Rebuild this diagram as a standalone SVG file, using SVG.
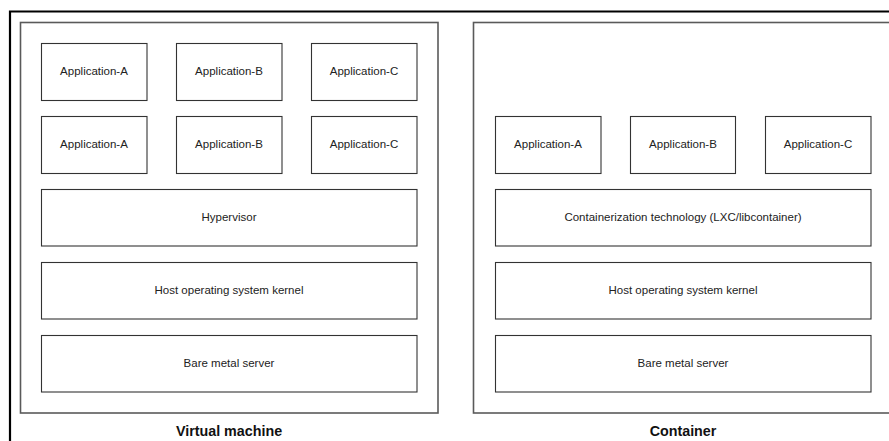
<svg xmlns="http://www.w3.org/2000/svg" width="889" height="441" viewBox="0 0 889 441">
<style>
.frame{fill:none;stroke:#000;stroke-width:2.2}
.panel{fill:none;stroke:#5a5a5a;stroke-width:1.6}
.box{fill:#fff;stroke:#333;stroke-width:1.1}
.lbl{font-family:"Liberation Sans",Arial,sans-serif;font-size:11.5px;fill:#222;text-anchor:middle}
.title{font-family:"Liberation Sans",Arial,sans-serif;font-size:14.3px;font-weight:bold;fill:#111;text-anchor:middle}
</style>
<rect width="889" height="441" fill="#fff"/>
<path class="frame" d="M10,441 V11.5 H889"/>
<g id="vm">
<rect class="panel" x="20.5" y="22.5" width="417.5" height="390.5"/>
<g id="vm-app-a1"><rect class="box" x="41.5" y="43.5" width="105.5" height="57"/><text class="lbl" x="94" y="75">Application-A</text></g>
<g id="vm-app-b1"><rect class="box" x="176.5" y="43.5" width="105.5" height="57"/><text class="lbl" x="229" y="75">Application-B</text></g>
<g id="vm-app-c1"><rect class="box" x="311.5" y="43.5" width="105.5" height="57"/><text class="lbl" x="364" y="75">Application-C</text></g>
<g id="vm-app-a2"><rect class="box" x="41.5" y="116.5" width="105.5" height="57"/><text class="lbl" x="94" y="148">Application-A</text></g>
<g id="vm-app-b2"><rect class="box" x="176.5" y="116.5" width="105.5" height="57"/><text class="lbl" x="229" y="148">Application-B</text></g>
<g id="vm-app-c2"><rect class="box" x="311.5" y="116.5" width="105.5" height="57"/><text class="lbl" x="364" y="148">Application-C</text></g>
<g id="vm-hypervisor"><rect class="box" x="41.5" y="189.5" width="375.5" height="56.5"/><text class="lbl" x="229" y="221">Hypervisor</text></g>
<g id="vm-kernel"><rect class="box" x="41.5" y="262.5" width="375.5" height="56.5"/><text class="lbl" x="229" y="294">Host operating system kernel</text></g>
<g id="vm-bare"><rect class="box" x="41.5" y="335.5" width="375.5" height="56.5"/><text class="lbl" x="229" y="367">Bare metal server</text></g>
<text class="title" x="229" y="436">Virtual machine</text>
</g>
<g id="ct">
<rect class="panel" x="473.5" y="22.5" width="430" height="390.5"/>
<g id="ct-app-a"><rect class="box" x="495.5" y="116.5" width="105.5" height="57"/><text class="lbl" x="548" y="148">Application-A</text></g>
<g id="ct-app-b"><rect class="box" x="630.5" y="116.5" width="105" height="57"/><text class="lbl" x="683" y="148">Application-B</text></g>
<g id="ct-app-c"><rect class="box" x="765.5" y="116.5" width="105.5" height="57"/><text class="lbl" x="818" y="148">Application-C</text></g>
<g id="ct-tech"><rect class="box" x="495.5" y="189.5" width="375.5" height="56.5"/><text class="lbl" x="683" y="221">Containerization technology (LXC/libcontainer)</text></g>
<g id="ct-kernel"><rect class="box" x="495.5" y="262.5" width="375.5" height="56.5"/><text class="lbl" x="683" y="294">Host operating system kernel</text></g>
<g id="ct-bare"><rect class="box" x="495.5" y="335.5" width="375.5" height="56.5"/><text class="lbl" x="683" y="367">Bare metal server</text></g>
<text class="title" x="683" y="436">Container</text>
</g>
<g id="connectors"/>
</svg>
